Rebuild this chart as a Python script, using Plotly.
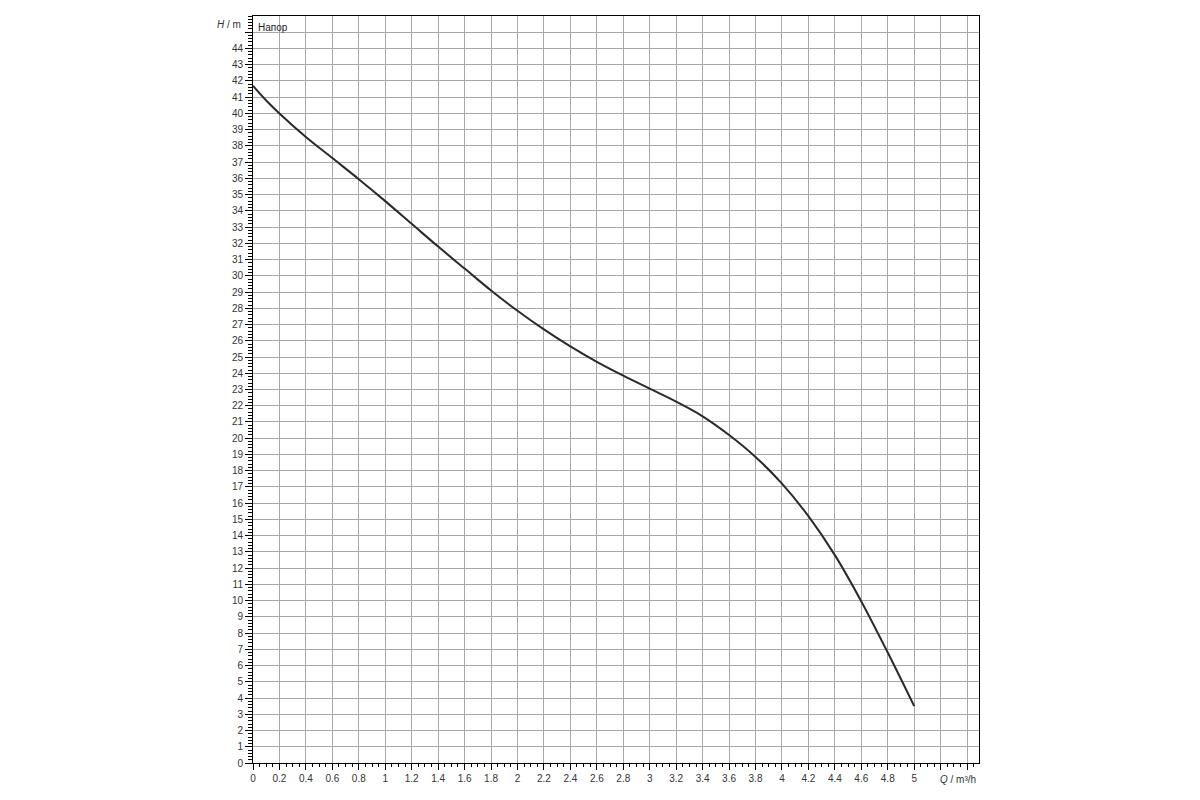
import plotly.graph_objects as go

# Pump curve data (Q in m³/h, H in m)
Q = [0, 0.1, 0.2, 0.4, 0.6, 0.8, 1.0, 1.2, 1.4, 1.6, 1.8, 2.0, 2.2, 2.4, 2.6, 2.8,
     3.0, 3.2, 3.4, 3.6, 3.8, 4.0, 4.2, 4.4, 4.6, 4.8, 5.0]
H = [41.7, 40.8, 40.0, 38.55, 37.25, 35.95, 34.6, 33.2, 31.8, 30.45, 29.1, 27.85, 26.7,
     25.65, 24.7, 23.85, 23.05, 22.25, 21.35, 20.2, 18.85, 17.2, 15.2, 12.8, 9.95, 6.8, 3.5]

# Axis ticks
X_TICKS = [0, 0.2, 0.4, 0.6, 0.8, 1, 1.2, 1.4, 1.6, 1.8, 2, 2.2, 2.4, 2.6, 2.8,
           3, 3.2, 3.4, 3.6, 3.8, 4, 4.2, 4.4, 4.6, 4.8, 5, 5.2, 5.4]
X_TICK_LABELS = ["0", "0.2", "0.4", "0.6", "0.8", "1", "1.2", "1.4", "1.6", "1.8",
                 "2", "2.2", "2.4", "2.6", "2.8", "3", "3.2", "3.4", "3.6", "3.8",
                 "4", "4.2", "4.4", "4.6", "4.8", "5", "", ""]
Y_TICKS = list(range(0, 46))
Y_TICK_LABELS = [str(v) for v in range(0, 45)] + [""]

SERIES_NAME = "Напор"
X_TITLE = "<i>Q</i> / m³/h"
Y_TITLE = "<i>H</i> / m"

FONT = "Liberation Sans, Arial, sans-serif"
GRID = "#a8a8a8"

fig = go.Figure()
fig.add_trace(go.Scatter(
    x=Q, y=H, mode="lines", name=SERIES_NAME,
    line=dict(color="#2a2a2a", width=2, shape="spline", smoothing=1.0),
    showlegend=False, hoverinfo="x+y",
))

fig.update_layout(
    width=1200, height=800,
    margin=dict(l=245, r=229, t=8, b=45, pad=0),
    paper_bgcolor="white", plot_bgcolor="white",
    font=dict(family=FONT, size=10, color="#444"),
    xaxis=dict(
        range=[0, 5.49], tickmode="array", tickvals=X_TICKS, ticktext=X_TICK_LABELS,
        showgrid=True, gridcolor=GRID, gridwidth=1, zeroline=False,
        showline=True, linecolor="black", linewidth=1, mirror=True,
        ticks="outside", ticklen=6, tickwidth=1, tickcolor="black",
        minor=dict(tickmode="linear", tick0=0, dtick=0.05, ticks="outside",
                   ticklen=3, tickwidth=1, tickcolor="black", showgrid=False),
        tickfont=dict(family=FONT, size=10, color="#333"),
    ),
    yaxis=dict(
        range=[0, 46], tickmode="array", tickvals=Y_TICKS, ticktext=Y_TICK_LABELS,
        showgrid=True, gridcolor=GRID, gridwidth=1, zeroline=False,
        showline=True, linecolor="black", linewidth=1, mirror=True,
        ticks="outside", ticklen=7, tickwidth=1, tickcolor="black",
        minor=dict(tickmode="linear", tick0=0, dtick=0.2, ticks="outside",
                   ticklen=4, tickwidth=1, tickcolor="black", showgrid=False),
        tickfont=dict(family=FONT, size=10, color="#333"),
    ),
    annotations=[
        dict(text=SERIES_NAME, xref="x", yref="y", x=0.02, y=45.3,
             xanchor="left", yanchor="middle", showarrow=False,
             font=dict(family=FONT, size=10, color="#222")),
        dict(text=Y_TITLE, xref="paper", yref="paper", x=-0.014, y=0.988,
             xanchor="right", yanchor="middle", showarrow=False,
             font=dict(family=FONT, size=10, color="#333")),
        dict(text=X_TITLE, xref="x", yref="paper", x=5.33, y=-0.0215,
             xanchor="center", yanchor="middle", showarrow=False,
             font=dict(family=FONT, size=10, color="#333")),
    ],
)

fig.write_html("out.html")
